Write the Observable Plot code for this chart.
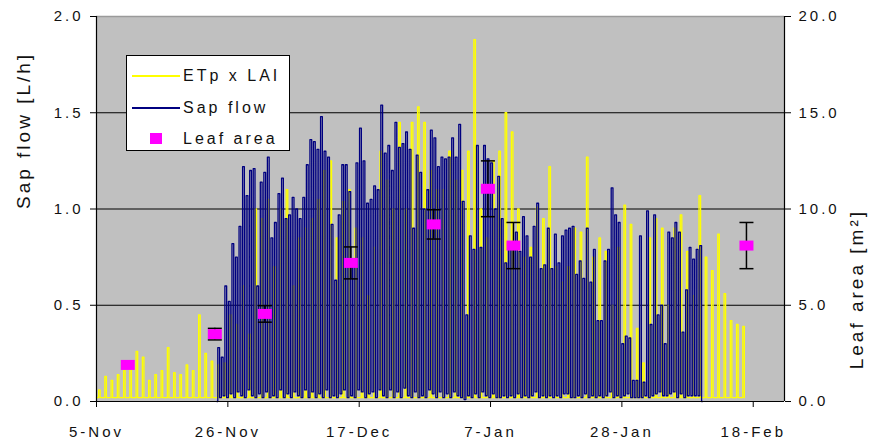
<!DOCTYPE html>
<html>
<head>
<meta charset="utf-8">
<script src="https://cdn.jsdelivr.net/npm/d3@7"></script>
<script src="https://cdn.jsdelivr.net/npm/@observablehq/plot@0.6"></script>
<style>
  html, body { margin: 0; padding: 0; background: #fff; }
  #wrap { position: relative; width: 882px; height: 443px; font-family: "Liberation Sans", Arial, sans-serif; }
  #legend {
    position: absolute; left: 126px; top: 55px; width: 164px; height: 96px;
    box-sizing: border-box; border: 1px solid #000; background: #fff;
    font-size: 16px; letter-spacing: 3px; color: #111;
  }
  #legend .item { position: absolute; left: 0; width: 100%; height: 22px; }
  #legend .swatch-line { position: absolute; left: 5px; width: 48px; top: 10px; height: 2px; }
  #legend .swatch-box { position: absolute; left: 23px; top: 5px; width: 12px; height: 11px; background: #ff00ff; }
  #legend .label { position: absolute; left: 56px; top: 1px; line-height: 20px; white-space: nowrap; }
</style>
</head>
<body>
<div id="wrap">
  <div id="chart"></div>
  <div id="legend">
    <div class="item" style="top:9px"><span class="swatch-line" style="background:#ffff00"></span><span class="label">ETp x LAI</span></div>
    <div class="item" style="top:41px"><span class="swatch-line" style="background:#000080"></span><span class="label">Sap flow</span></div>
    <div class="item" style="top:72px"><span class="swatch-box"></span><span class="label">Leaf area</span></div>
  </div>
</div>
<script>
// Season: 5 Nov to 23 Feb
const seasonStart = "2002-11-05";
const seasonEnd = "2003-02-23";
const xTickLabels = ["2002-11-05", "2002-11-26", "2002-12-17", "2003-01-07", "2003-01-28", "2003-02-18"];
const yTicks = [0, 0.5, 1.0, 1.5, 2.0];

// Daily maxima of potential transpiration scaled by leaf area (L/h), from 5 Nov
const etpDailyPeak = [
  0.06, 0.13, 0.11, 0.14, 0.16, 0.19, 0.26, 0.23, 0.11, 0.14,
  0.16, 0.28, 0.15, 0.14, 0.19, 0.16, 0.45, 0.25, 0.21, 0.19,
  0.20, 0.45, 0.40, 0.60, 0.35, 1.00, 0.95, 1.05, 0.70, 1.00,
  1.10, 0.60, 0.85, 0.90, 0.95, 1.05, 1.20, 1.25, 0.85, 1.04,
  1.10, 0.90, 0.85, 0.55, 0.80, 1.30, 1.15, 1.00, 1.45, 1.00,
  1.45, 1.53, 1.45, 1.20, 1.10, 1.10, 1.30, 1.15, 1.20, 1.30,
  1.88, 1.00, 0.85, 1.25, 1.30, 1.50, 1.40, 1.00, 0.75, 0.80,
  1.01, 0.95, 1.22, 0.70, 0.62, 0.70, 0.90, 0.88, 1.27, 0.75,
  0.85, 0.78, 0.50, 0.80, 1.02, 0.92, 0.38, 0.20, 0.85, 0.95,
  0.90, 0.50, 0.90, 0.97, 0.78, 0.55, 1.07, 0.75, 0.68, 0.87,
  0.56, 0.42, 0.40, 0.39
];
const etpFirstDay = "2002-11-05";
// Each day the ETp reading holds its peak from 08:00 and returns to the night value at 14:00
const etpHours = [8, 14];
const etpNight = 0.02;

// Sap flow log: alternating low / high readings, one every 6.8 h from 24 Nov 06:00
const sapFirstReading = "2002-11-24T06:00";
const sapStepHours = 6.8;
const sapHighs = [
  0.28, 0.23, 0.60, 0.52, 0.82, 0.75, 0.91, 1.22, 1.07, 1.20,
  1.21, 0.60, 1.14, 1.19, 1.27, 0.85, 0.93, 1.08, 1.16, 0.95,
  0.97, 1.06, 1.00, 0.95, 1.06, 1.23, 1.36, 1.35, 1.31, 1.48,
  1.30, 1.27, 0.92, 0.63, 0.97, 1.23, 1.23, 1.09, 0.72, 1.24,
  1.42, 1.25, 1.03, 1.05, 1.12, 1.10, 1.54, 1.29, 1.33, 1.20,
  1.45, 1.32, 1.34, 1.40, 1.31, 0.90, 1.28, 1.19, 1.00, 1.10,
  1.41, 1.37, 1.22, 1.27, 1.26, 1.27, 1.37, 1.27, 1.44, 1.04,
  0.45, 0.86, 0.79, 1.33, 0.80, 1.33, 1.26, 1.24, 1.00, 1.17,
  0.95, 0.72, 0.80, 0.83, 0.88, 0.78, 0.96, 0.86, 0.75, 0.91,
  1.03, 0.69, 0.71, 0.90, 0.69, 0.87, 0.72, 0.86, 0.89, 0.90,
  0.91, 0.66, 0.73, 0.64, 0.90, 0.62, 0.79, 0.42, 0.42, 0.73,
  0.79, 1.11, 0.97, 0.93, 0.30, 0.34, 0.33, 0.11, 0.11, 0.86,
  0.10, 0.99, 0.40, 0.97, 0.45, 0.50, 0.30, 0.88, 0.85, 0.93,
  0.88, 0.36, 0.58, 0.80, 0.74, 0.79, 0.81
];
const sapLows = [
  0.00, 0.02, 0.03, 0.02, 0.04, 0.02, 0.05, 0.03, 0.02, 0.06,
  0.03, 0.02, 0.04, 0.02, 0.05, 0.02, 0.03, 0.02, 0.06, 0.02,
  0.04, 0.02, 0.05, 0.03, 0.02, 0.06, 0.02, 0.05, 0.02, 0.04,
  0.02, 0.06, 0.02, 0.03, 0.02, 0.04, 0.06, 0.02, 0.03, 0.02,
  0.06, 0.05, 0.02, 0.04, 0.05, 0.02, 0.06, 0.03, 0.02, 0.06,
  0.02, 0.05, 0.02, 0.07, 0.03, 0.02, 0.05, 0.02, 0.03, 0.02,
  0.06, 0.04, 0.02, 0.05, 0.02, 0.04, 0.02, 0.05, 0.03, 0.02,
  0.01, 0.03, 0.02, 0.04, 0.02, 0.05, 0.03, 0.02, 0.04, 0.02,
  0.02, 0.03, 0.02, 0.03, 0.02, 0.04, 0.02, 0.03, 0.02, 0.03,
  0.05, 0.02, 0.03, 0.02, 0.03, 0.02, 0.03, 0.02, 0.04, 0.04,
  0.02, 0.02, 0.03, 0.02, 0.04, 0.02, 0.03, 0.02, 0.03, 0.02,
  0.03, 0.05, 0.02, 0.03, 0.02, 0.03, 0.04, 0.02, 0.02, 0.02,
  0.02, 0.03, 0.02, 0.03, 0.04, 0.05, 0.03, 0.03, 0.04, 0.05,
  0.02, 0.04, 0.02, 0.03, 0.03, 0.03, 0.03, 0.00
];

// Leaf area measurements (m²) with their standard deviation
const leafDates = ["2002-11-10T00:00", "2002-11-23T22:00", "2002-12-01T22:00", "2002-12-15T16:00",
                   "2002-12-28T22:00", "2003-01-06T14:00", "2003-01-10T16:00", "2003-02-16T22:00"];
const leafArea = [1.9, 3.5, 4.55, 7.2, 9.2, 11.05, 8.1, 8.1];
const leafAreaSd = [0, 0.3, 0.43, 0.83, 0.76, 1.45, 1.2, 1.2];

// ---------------------------------------------------------------
const DAY = 864e5, HOUR = 36e5;
const utc = s => new Date(s + (s.length > 10 ? "Z" : "T00:00Z"));

// ETp: a daytime reading and a night reading per day
const etp = [{t: utc(etpFirstDay), v: etpNight}];
etpDailyPeak.forEach((p, i) => {
  const day = +utc(etpFirstDay) + i * DAY;
  etp.push({t: new Date(day + etpHours[0] * HOUR), v: p});
  etp.push({t: new Date(day + etpHours[1] * HOUR), v: etpNight});
});

// Sap flow: interleave the low and high readings in logging order
const sapReadings = [];
sapLows.forEach((lo, i) => {
  sapReadings.push(lo);
  if (i < sapHighs.length) sapReadings.push(sapHighs[i]);
});
const sap = sapReadings.map((v, i) => ({t: new Date(+utc(sapFirstReading) + i * sapStepHours * HOUR), v}));

const leaf = leafDates.map((d, i) => ({date: utc(d), area: leafArea[i], sd: leafAreaSd[i]}));
const withSd = leaf.filter(d => d.sd > 0);

// Leaf area shares the y scale: 1 L/h on the left corresponds to 10 m² on the right
const AREA_RATIO = 10;

const capSymbol = {draw(ctx) { ctx.moveTo(-7, 0); ctx.lineTo(7, 0); }};
const boxSymbol = {draw(ctx) { ctx.rect(-7, -5, 14, 10); }};

const xMin = utc(seasonStart), xMax = utc(seasonEnd);
const tickFont = {fontSize: 15, fill: "#111"};

const chart = Plot.plot({
  width: 882,
  height: 443,
  marginLeft: 96,
  marginRight: 98,
  marginTop: 16,
  marginBottom: 42,
  style: {background: "transparent", fontFamily: "'Liberation Sans', Arial, sans-serif", letterSpacing: "3px", overflow: "visible"},
  x: {type: "utc", domain: [xMin, xMax]},
  y: {domain: [0, 2]},
  marks: [
    Plot.frame({fill: "#c0c0c0", stroke: "none"}),
    Plot.ruleY([0.5, 1.0, 1.5], {stroke: "#000", strokeWidth: 1.2}),
    Plot.ruleY([2], {stroke: "#9a9a9a", strokeWidth: 1.5}),
    Plot.line(etp, {x: "t", y: "v", stroke: "#ffff00", strokeWidth: 1.3, curve: "step-after"}),
    Plot.line(sap, {x: "t", y: "v", stroke: "#000080", strokeWidth: 1.3, curve: "step"}),
    Plot.ruleX(withSd, {
      x: "date",
      y1: d => (d.area - d.sd) / AREA_RATIO,
      y2: d => (d.area + d.sd) / AREA_RATIO,
      stroke: "#000", strokeWidth: 1.5
    }),
    Plot.dot(withSd, {x: "date", y: d => (d.area - d.sd) / AREA_RATIO, symbol: capSymbol, stroke: "#000", strokeWidth: 1.5}),
    Plot.dot(withSd, {x: "date", y: d => (d.area + d.sd) / AREA_RATIO, symbol: capSymbol, stroke: "#000", strokeWidth: 1.5}),
    Plot.dot(leaf, {x: "date", y: d => d.area / AREA_RATIO, symbol: boxSymbol, fill: "#ff00ff", stroke: "none"}),
    Plot.ruleX([xMin], {stroke: "#000", strokeWidth: 1.2}),
    Plot.ruleX([xMax], {stroke: "#000", strokeWidth: 1.2}),
    Plot.ruleY([0], {stroke: "#000", strokeWidth: 1.2}),
    Plot.axisX({
      ticks: xTickLabels.map(utc),
      tickFormat: d3.utcFormat("%-d-%b"),
      tickSize: 6, tickPadding: 19, label: null, stroke: "#000", ...tickFont
    }),
    Plot.axisY({
      anchor: "left", ticks: yTicks, tickFormat: d3.format(".1f"),
      tickSize: 6, tickPadding: 7, label: null, ...tickFont
    }),
    Plot.axisY({
      anchor: "right", ticks: yTicks, tickFormat: d => (d * AREA_RATIO).toFixed(1),
      tickSize: 6, tickPadding: 8, label: null, ...tickFont
    }),
    Plot.text(["Sap flow [L/h]"], {frameAnchor: "left", dx: -73, rotate: -90, fontSize: 19, fill: "#111"}),
    Plot.text(["Leaf area [m²]"], {frameAnchor: "right", dx: 72, rotate: -90, fontSize: 19, fill: "#111"})
  ]
});
document.getElementById("chart").appendChild(chart);
</script>
</body>
</html>
